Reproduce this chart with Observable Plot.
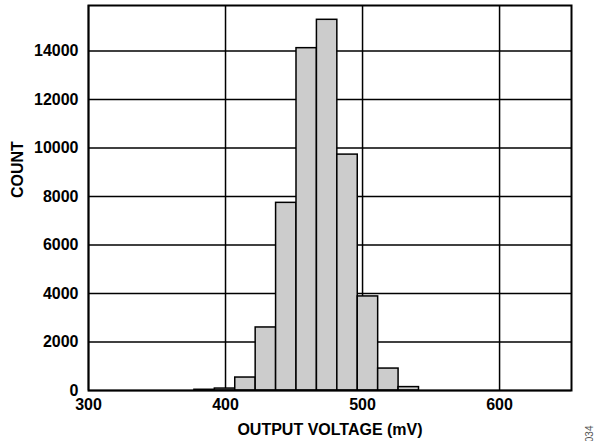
<!DOCTYPE html>
<html>
<head>
<meta charset="utf-8">
<script src="https://cdn.jsdelivr.net/npm/d3@7"></script>
<script src="https://cdn.jsdelivr.net/npm/@observablehq/plot@0.6"></script>
<style>
  html, body { margin: 0; padding: 0; background: #fff; }
  svg { display: block; overflow: visible; }
</style>
</head>
<body>
<div id="chart"></div>
<script>
// Bin edges (mV) and counts
const binStart = [377.3, 392.2, 407.1, 422.0, 436.9, 451.8, 466.7, 481.6, 496.5, 511.4, 526.3];
const binEnd   = [392.2, 407.1, 422.0, 436.9, 451.8, 466.7, 481.6, 496.5, 511.4, 526.3, 541.2];
const counts   = [30, 80, 535, 2600, 7740, 14120, 15290, 9730, 3880, 905, 140];
const xTicks = [300, 400, 500, 600];
const yTicks = [0, 2000, 4000, 6000, 8000, 10000, 12000, 14000];
const xLabel = "OUTPUT VOLTAGE (mV)";
const yLabel = "COUNT";
const figId = "034";

const bins = binStart.map((s, i) => ({x1: s, x2: binEnd[i], y: counts[i]}));

const chart = Plot.plot({
  width: 599,
  height: 441,
  marginLeft: 88,
  marginRight: 28,
  marginTop: 5,
  marginBottom: 51,
  style: {fontFamily: "Liberation Sans, Arial, sans-serif", fontSize: "16px", fontWeight: "bold", color: "#000", background: "#fff"},
  x: {domain: [300, 652.5]},
  y: {domain: [0, 15880]},
  marks: [
    Plot.gridX(xTicks, {stroke: "#000", strokeOpacity: 1, strokeWidth: 1.5}),
    Plot.gridY(yTicks, {stroke: "#000", strokeOpacity: 1, strokeWidth: 1.5}),
    Plot.rectY(bins, {x1: "x1", x2: "x2", y: "y", fill: "#cccccc", stroke: "#000", strokeWidth: 1.5}),
    Plot.axisX({ticks: xTicks, tickSize: 0, tickPadding: 8, tickFormat: d => String(d), label: null, fontSize: 16, fontWeight: "bold"}),
    Plot.axisY({ticks: yTicks, tickSize: 0, tickPadding: 10, tickFormat: d => String(d), label: null, fontSize: 16, fontWeight: "bold"}),
    Plot.frame({stroke: "#000", strokeWidth: 2}),
    Plot.text([xLabel], {text: d => d, frameAnchor: "bottom", dy: 44, fontSize: 16, fontWeight: "bold", fill: "#000"}),
    Plot.text([yLabel], {text: d => d, frameAnchor: "left", dx: -71, rotate: -90, fontSize: 16, fontWeight: "bold", fill: "#000"}),
    Plot.text([figId], {text: d => d, frameAnchor: "bottom-right", dx: 21, dy: 35, rotate: -90, fontSize: 10, fontWeight: "normal", fill: "#555"})
  ]
});
document.getElementById("chart").appendChild(chart);
</script>
</body>
</html>
